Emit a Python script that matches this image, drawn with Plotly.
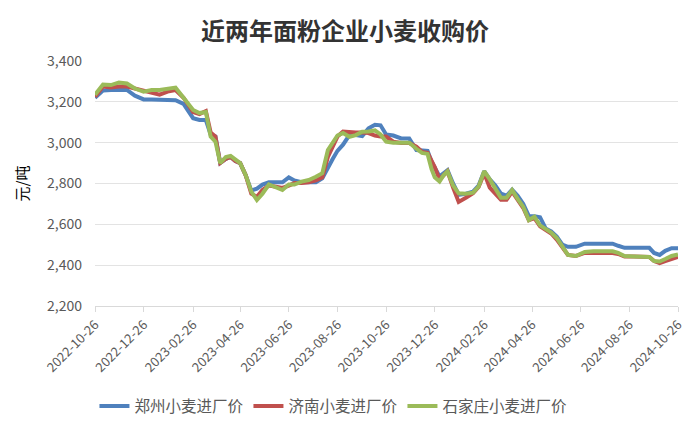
import plotly.graph_objects as go

dates = [
    "2022-10-26", "2022-11-05", "2022-11-15", "2022-11-25", "2022-12-05", "2022-12-15",
    "2022-12-26", "2023-01-05", "2023-01-15", "2023-01-25", "2023-02-04", "2023-02-14",
    "2023-02-26", "2023-03-06", "2023-03-14", "2023-03-20", "2023-03-26", "2023-04-01",
    "2023-04-08", "2023-04-14", "2023-04-20", "2023-04-26", "2023-05-03", "2023-05-10",
    "2023-05-17", "2023-05-24", "2023-06-01", "2023-06-10", "2023-06-18", "2023-06-26",
    "2023-07-03", "2023-07-12", "2023-07-21", "2023-07-30", "2023-08-07", "2023-08-14",
    "2023-08-20", "2023-08-26", "2023-09-02", "2023-09-10", "2023-09-18", "2023-09-26",
    "2023-10-04", "2023-10-12", "2023-10-19", "2023-10-26", "2023-11-04", "2023-11-14",
    "2023-11-24", "2023-12-03", "2023-12-10", "2023-12-17", "2023-12-22", "2023-12-26",
    "2024-01-01", "2024-01-06", "2024-01-11", "2024-01-18", "2024-01-25", "2024-02-03",
    "2024-02-12", "2024-02-19", "2024-02-26", "2024-03-04", "2024-03-11", "2024-03-18",
    "2024-03-25", "2024-04-01", "2024-04-08", "2024-04-15", "2024-04-22", "2024-04-29",
    "2024-05-06", "2024-05-13", "2024-05-20", "2024-05-27", "2024-06-03", "2024-06-10",
    "2024-06-20", "2024-07-01", "2024-07-12", "2024-07-24", "2024-08-05", "2024-08-12",
    "2024-08-20", "2024-09-01", "2024-09-12", "2024-09-20", "2024-09-26", "2024-10-03",
    "2024-10-10", "2024-10-18", "2024-10-26",
]

zhengzhou = [
    3220, 3255, 3258, 3258, 3258, 3230, 3212, 3212, 3212, 3212, 3208, 3190,
    3120, 3111, 3111, 3040, 3030, 2900, 2920, 2930, 2910, 2900, 2840, 2765,
    2775, 2795, 2806, 2806, 2806, 2830, 2815, 2806, 2806, 2806, 2825, 2880,
    2920, 2960, 2990, 3037, 3037, 3032, 3070, 3088, 3085, 3040, 3035, 3021,
    3021, 2964, 2960, 2960, 2907, 2880, 2835, 2850, 2865, 2800, 2745, 2750,
    2760, 2790, 2860, 2820, 2790, 2750, 2740, 2770, 2740, 2700, 2640, 2640,
    2635, 2580, 2565, 2540, 2500, 2490, 2490, 2505, 2505, 2505, 2505, 2495,
    2485, 2485, 2485, 2485, 2460, 2450, 2470, 2483, 2483,
]

jinan = [
    3225, 3275, 3270, 3275, 3275, 3265, 3250, 3245, 3235, 3250, 3258, 3220,
    3150, 3140, 3155, 3050, 3030, 2900, 2920, 2930, 2910, 2900, 2840, 2750,
    2735, 2768, 2790, 2784, 2778, 2790, 2802, 2802, 2806, 2815, 2830, 2930,
    2985, 3030, 3054, 3050, 3050, 3050, 3047, 3035, 3030, 3030, 3005, 2998,
    2998, 2980, 2955, 2950, 2910, 2880, 2820, 2840, 2860, 2780, 2710, 2730,
    2752, 2783, 2850, 2780, 2752, 2720, 2720, 2760, 2720, 2680, 2620, 2630,
    2590, 2570, 2555, 2525, 2490, 2450, 2445, 2460, 2460, 2460, 2460, 2455,
    2442, 2442, 2442, 2440, 2420, 2410, 2420, 2430, 2440,
]

shijiazhuang = [
    3235, 3285, 3282, 3295, 3290, 3265, 3250, 3258, 3258, 3262, 3270, 3220,
    3160, 3145, 3150, 3030, 3005, 2900, 2930, 2935, 2915, 2900, 2841, 2760,
    2719, 2750, 2795, 2780, 2768, 2795, 2795, 2809, 2817, 2833, 2850, 2964,
    3000, 3035, 3047, 3029, 3037, 3054, 3055, 3060, 3040, 3005, 3000, 3000,
    3000, 2970, 2950, 2945, 2870, 2830, 2810, 2840, 2860, 2790, 2752, 2750,
    2755, 2785, 2860, 2820, 2770, 2730, 2730, 2768, 2725, 2685, 2621, 2637,
    2595, 2575, 2560, 2533, 2490, 2450, 2445, 2465, 2468, 2468, 2468, 2460,
    2445, 2443, 2443, 2440, 2420, 2418, 2430, 2445, 2452,
]

series_names = ["郑州小麦进厂价", "济南小麦进厂价", "石家庄小麦进厂价"]
series_colors = ["#4F81BD", "#C0504D", "#9BBB59"]
tick_dates = ["2022-10-26", "2022-12-26", "2023-02-26", "2023-04-26", "2023-06-26",
              "2023-08-26", "2023-10-26", "2023-12-26", "2024-02-26", "2024-04-26",
              "2024-06-26", "2024-08-26", "2024-10-26"]
y_ticks = [2200, 2400, 2600, 2800, 3000, 3200, 3400]

FONT = "Noto Sans CJK SC, Microsoft YaHei, sans-serif"

fig = go.Figure()
for name, vals, col in zip(series_names, [zhengzhou, jinan, shijiazhuang], series_colors):
    fig.add_trace(go.Scatter(
        x=dates, y=vals, name=name, mode="lines",
        line=dict(color=col, width=4),
    ))

fig.update_layout(
    width=700, height=425,
    margin=dict(l=95, r=22, t=61, b=119, autoexpand=False),
    paper_bgcolor="white", plot_bgcolor="white",
    font=dict(family=FONT, color="#595959"),
    title=dict(text="<b>近两年面粉企业小麦收购价</b>", x=0.493, xanchor="center",
               y=0.925, yanchor="middle",
               font=dict(size=24, color="#333333", family=FONT)),
    showlegend=True,
    legend=dict(orientation="h", x=0.409, xanchor="center", y=-0.41, yanchor="middle",
                font=dict(size=15.5, color="#595959", family=FONT),
                itemwidth=30, tracegroupgap=0, bgcolor="rgba(0,0,0,0)"),
    xaxis=dict(
        type="date", range=["2022-10-26", "2024-10-26"], automargin=False,
        tickvals=tick_dates, ticktext=tick_dates, tickangle=-45,
        tickfont=dict(size=13, color="#595959", family=FONT),
        showgrid=False, showline=True, linecolor="#D9D9D9", linewidth=1,
        ticks="outside", ticklen=5, tickcolor="#D9D9D9", zeroline=False,
    ),
    yaxis=dict(
        range=[2200, 3400], tickvals=y_ticks, tickformat=",d", automargin=False,
        tickfont=dict(size=14, color="#595959", family=FONT),
        showgrid=True, gridcolor="#E3E3E3", gridwidth=1, zeroline=False,
        showline=False, ticks="", ticklabelstandoff=12,
        title=dict(text="元/吨", font=dict(size=15, color="#000000", family=FONT), standoff=14),
    ),
)

fig.write_html("out.html", config={"displayModeBar": False},
               post_script="document.body.style.margin='0';")
